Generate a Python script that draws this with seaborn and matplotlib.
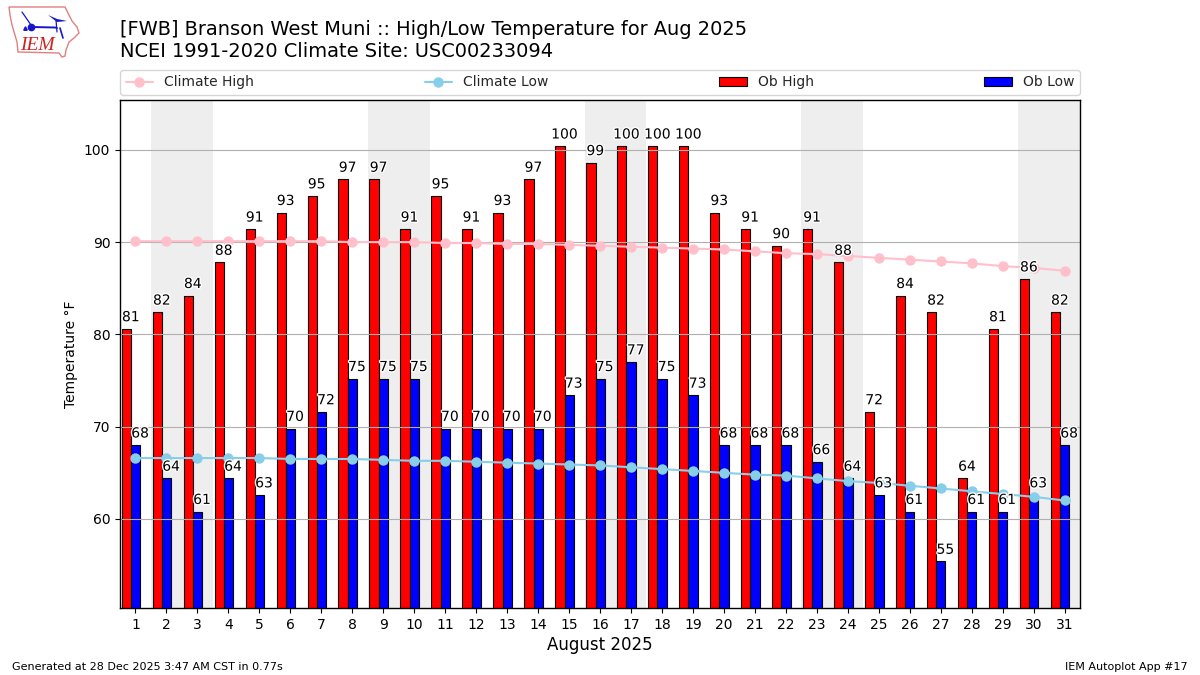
import numpy as np
import pandas as pd
import matplotlib
matplotlib.use("Agg")
import matplotlib.pyplot as plt
import matplotlib.patheffects as pe
from matplotlib.patches import Polygon
from matplotlib.lines import Line2D
import seaborn as sns

days = list(range(1, 32))
ob_high = [80.6, 82.4, 84.2, 87.8, 91.4, 93.2, 95.0, 96.8, 96.8, 91.4, 95.0, 91.4, 93.2, 96.8, 100.4, 98.6,
           100.4, 100.4, 100.4, 93.2, 91.4, 89.6, 91.4, 87.8, 71.6, 84.2, 82.4, 64.4, 80.6, 86.0, 82.4]
ob_low = [68.0, 64.4, 60.8, 64.4, 62.6, 69.8, 71.6, 75.2, 75.2, 75.2, 69.8, 69.8, 69.8, 69.8, 73.4, 75.2,
          77.0, 75.2, 73.4, 68.0, 68.0, 68.0, 66.2, 64.4, 62.6, 60.8, 55.4, 60.8, 60.8, 62.6, 68.0]
clim_high = [90.1, 90.1, 90.1, 90.1, 90.1, 90.1, 90.1, 90.0, 90.0, 90.0, 89.9, 89.9, 89.8, 89.8, 89.7, 89.6,
             89.5, 89.4, 89.3, 89.2, 89.0, 88.8, 88.7, 88.5, 88.3, 88.1, 87.9, 87.7, 87.4, 87.2, 86.9]
clim_low = [66.6, 66.6, 66.6, 66.6, 66.6, 66.5, 66.5, 66.5, 66.4, 66.3, 66.3, 66.2, 66.1, 66.0, 65.9, 65.8,
            65.6, 65.4, 65.2, 65.0, 64.8, 64.7, 64.4, 64.1, 63.9, 63.6, 63.3, 63.0, 62.7, 62.4, 62.0]
weekends = [2, 9, 16, 23, 30]
yticks = [60, 70, 80, 90, 100]

df = pd.DataFrame({"day": days, "high": ob_high, "low": ob_low, "chigh": clim_high, "clow": clim_low})

sns.set_style("ticks")
plt.rcParams["font.family"] = ["DejaVu Sans"]
plt.rcParams["axes.linewidth"] = 1.0

fig = plt.figure(figsize=(12, 6.75), dpi=100)
ax = fig.add_axes([120 / 1200, 1 - 608 / 675, 960 / 1200, 508 / 675])

for d in weekends:
    ax.axvspan(d - 0.5, d + 1.5, color="#eeeeee", lw=0, zorder=0)

sns.barplot(x=df["day"] - 0.295, y=df["high"], native_scale=True, width=0.3, color="red", saturation=1,
            edgecolor="black", linewidth=0.8, ax=ax, zorder=1, errorbar=None)
sns.barplot(x=df["day"] + 0.005, y=df["low"], native_scale=True, width=0.3, color="blue", saturation=1,
            edgecolor="black", linewidth=0.8, ax=ax, zorder=1, errorbar=None)
sns.lineplot(data=df, x="day", y="chigh", color="pink", marker="o", markersize=7.5, linewidth=1.5,
             markeredgecolor="pink", markeredgewidth=0, ax=ax, zorder=2, errorbar=None)
sns.lineplot(data=df, x="day", y="clow", color="skyblue", marker="o", markersize=7.5, linewidth=1.5,
             markeredgecolor="skyblue", markeredgewidth=0, ax=ax, zorder=2, errorbar=None)

stroke = [pe.withStroke(linewidth=2, foreground="white")]
for d, hi, lo in zip(days, ob_high, ob_low):
    for xpos, val in ((d - 0.15, hi), (d + 0.15, lo)):
        ax.annotate(f"{val:.0f}", (xpos, val), xytext=(0, 5.5), textcoords="offset points", ha="center",
                    va="baseline", fontsize=10, color="black", path_effects=stroke, zorder=5)

ax.set_xlim(0.5, 31.5)
ax.set_ylim(50.35, 105.4)
ax.set_xticks(days)
ax.set_xticklabels([str(d) for d in days], fontsize=10)
ax.set_yticks(yticks)
ax.tick_params(axis="both", labelsize=10, length=3.5, width=0.8, color="black", labelcolor="black")
ax.grid(False)
ax.yaxis.grid(True, color="#b0b0b0", linewidth=0.8)
ax.set_axisbelow("line")
for s in ax.spines.values():
    s.set_visible(True)
    s.set_color("black")
ax.set_xlabel("August 2025", fontsize=12, color="black", labelpad=3)
ax.set_ylabel("Temperature °F", fontsize=10, color="black", labelpad=4)

handles = [
    Line2D([], [], color="pink", marker="o", markersize=7.5, markeredgewidth=0, linewidth=1.5),
    Line2D([], [], color="skyblue", marker="o", markersize=7.5, markeredgewidth=0, linewidth=1.5),
    plt.Rectangle((0, 0), 1, 1, facecolor="red", edgecolor="black", linewidth=0.8),
    plt.Rectangle((0, 0), 1, 1, facecolor="blue", edgecolor="black", linewidth=0.8),
]
ax.legend(handles, ["Climate High", "Climate Low", "Ob High", "Ob Low"], loc="lower left",
          bbox_to_anchor=(0, 1.01, 1, 0.05), mode="expand", ncol=4, borderaxespad=0, fontsize=10,
          frameon=True, facecolor="white", edgecolor="#cccccc", framealpha=0.8)

fig.text(120 / 1200, 1 - 35 / 675, "[FWB] Branson West Muni :: High/Low Temperature for Aug 2025", fontsize=13.95,
         color="black", va="baseline")
fig.text(120 / 1200, 1 - 57 / 675, "NCEI 1991-2020 Climate Site: USC00233094", fontsize=13.95, color="black",
         va="baseline")
fig.text(12 / 1200, 1 - 670 / 675, "Generated at 28 Dec 2025 3:47 AM CST in 0.77s", fontsize=8, color="black",
         va="baseline")
fig.text(1188 / 1200, 1 - 670 / 675, "IEM Autoplot App #17", fontsize=8, color="black", ha="right", va="baseline")

# IEM logo sketch
logo = fig.add_axes([0, 1 - 60 / 675, 85 / 1200, 60 / 675])
logo.set_xlim(0, 85)
logo.set_ylim(60, 0)
logo.axis("off")
logo.add_patch(Polygon([(9, 7), (65, 7), (68, 13), (72, 21), (77, 27), (79, 33), (74, 38), (69, 42), (66, 50),
                        (65, 56), (62, 57), (59, 53), (18, 52), (17, 42), (12, 25), (10, 15)],
                       closed=True, fill=False, edgecolor="#e08080", linewidth=1))
logo.plot([32, 55, 57], [27, 27.5, 28], color="#1515d0", lw=1.4)
logo.plot([31], [27], "o", color="#1515d0", ms=4.5)
logo.plot([22, 31], [12, 25], color="#1515d0", lw=0.9)
logo.fill([48, 57, 67, 57], [15, 19, 21, 22], color="#1515d0", lw=0)
logo.plot([56, 57], [20, 32], color="#1515d0", lw=0.9)
logo.plot([60, 63], [28, 38], color="#1515d0", lw=1.2)
logo.plot([25], [28], "^", color="#1515d0", ms=2.5)
logo.text(37.5, 45, "IEM", family="Liberation Serif", style="italic", fontsize=14, color="#d02020", ha="center",
          va="center")

fig.savefig("out.png", dpi=100)
